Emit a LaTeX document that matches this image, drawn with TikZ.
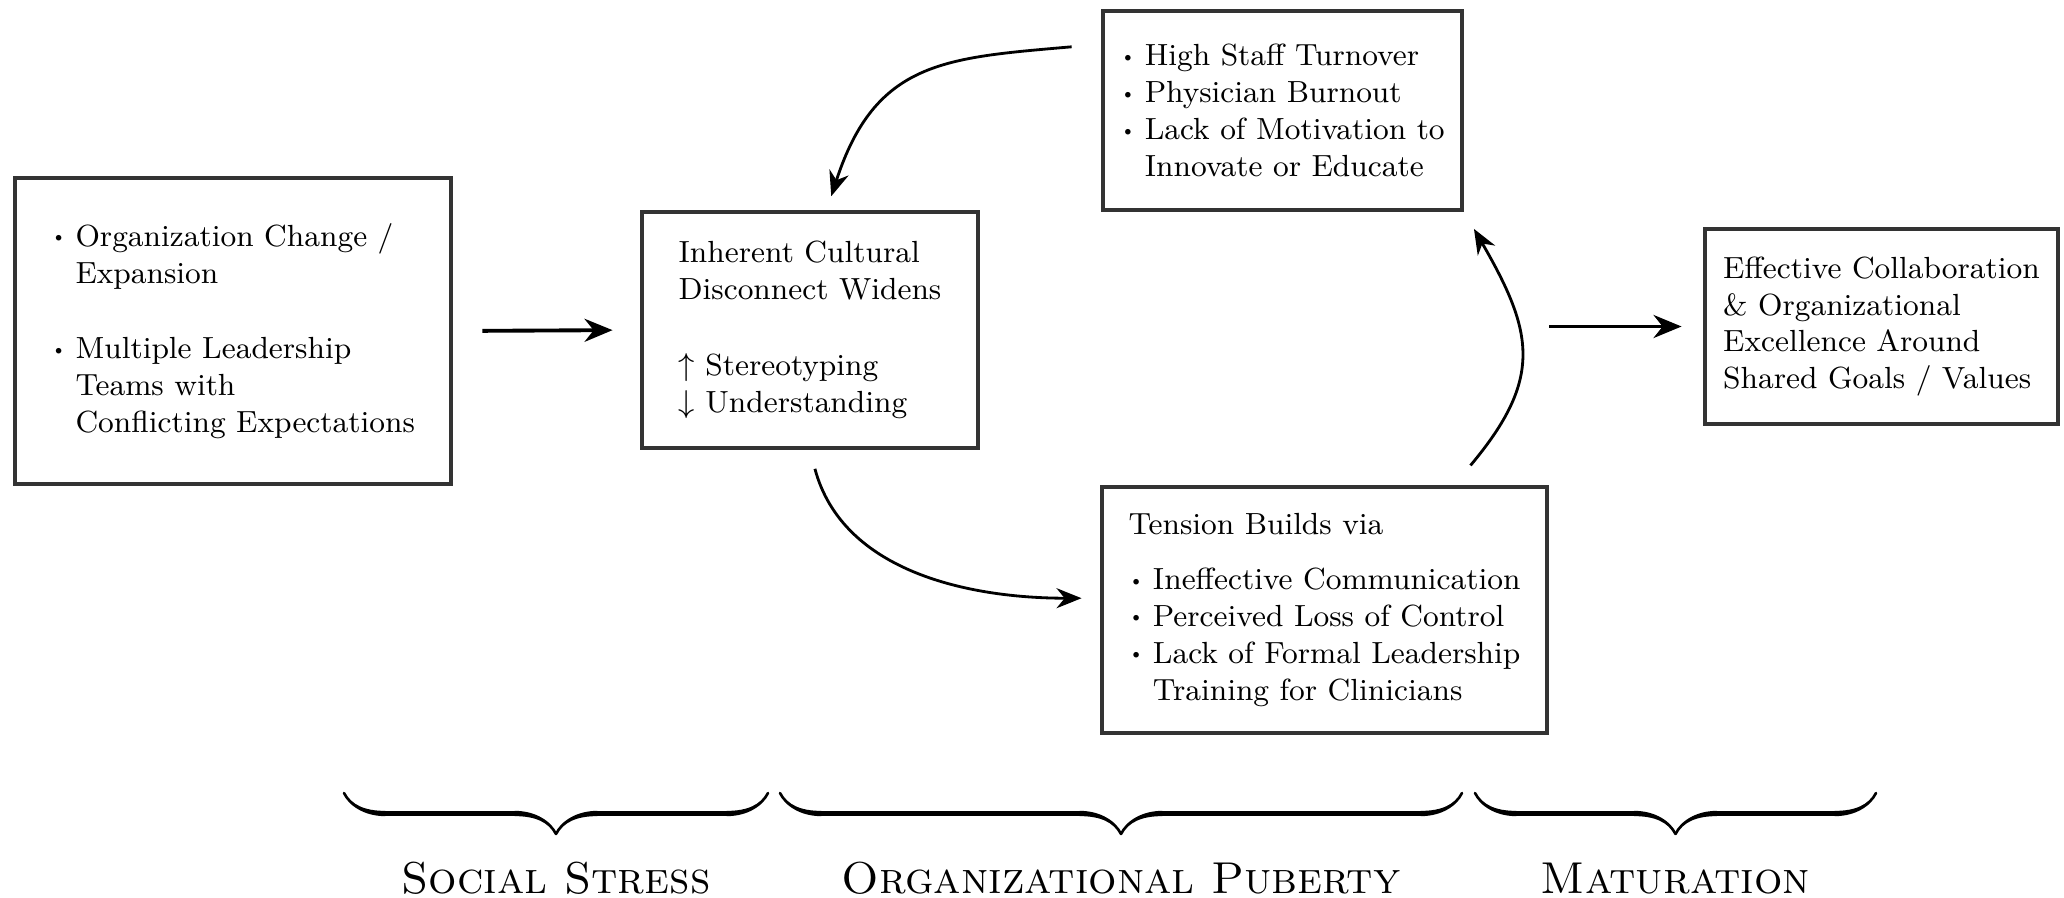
\documentclass[tikz,border=0pt]{standalone}
\usetikzlibrary{arrows.meta, decorations.pathreplacing, calligraphy}
\newcommand{\bul}{\makebox[0.8em][l]{\raisebox{0.25ex}{\scalebox{0.62}{\textbullet}}}}
\newcommand{\bulgap}{\hspace*{0.8em}}
\begin{document}
\begin{tikzpicture}[
		stagebox/.style = {draw = black!80, line width = 1.4pt, align = left, inner sep = 0pt, font = \fontsize{8.7}{10.5}\selectfont},
		flowarrow/.style = {line width = 1.1pt, -{Stealth[length = 2.8mm, width = 2.3mm]}},
		cyclearrow/.style = {line width = 0.8pt, -{Stealth[length = 2.5mm, width = 2mm]}},
		phasebrace/.style = {decorate, decoration = {calligraphic brace, mirror, amplitude = 0.41cm}, line width = 1.5pt},
		phaselabel/.style = {anchor = base, inner sep = 0pt, font = \fontsize{12.7}{14}\selectfont\scshape}
	]
	\useasboundingbox (0, 0) rectangle (20.64, 8.97);
	
	\node (change) at (2.33, 5.66) [stagebox, minimum width = 4.36cm, minimum height = 3.06cm] {
		\bul Organization Change /\\
		\bulgap Expansion\\[11pt]
		\bul Multiple Leadership\\
		\bulgap Teams with\\
		\bulgap Conflicting Expectations};
	\node (disconnect) at (8.10, 5.67) [stagebox, minimum width = 3.36cm, minimum height = 2.36cm] {
		Inherent Cultural\\
		Disconnect Widens\\[11pt]
		$\uparrow$ Stereotyping\\
		$\downarrow$ Understanding};
	\node (burnout) at (12.825, 7.865) [stagebox, minimum width = 3.59cm, minimum height = 1.99cm] {
		\bul High Staff Turnover\\
		\bul Physician Burnout\\
		\bul Lack of Motivation to\\
		\bulgap Innovate or Educate};
	\node (tension) at (13.245, 2.87) [stagebox, minimum width = 4.45cm, minimum height = 2.46cm] {
		Tension Builds via\\[5pt]
		\bul Ineffective Communication\\
		\bul Perceived Loss of Control\\
		\bul Lack of Formal Leadership\\
		\bulgap Training for Clinicians};
	\node (excellence) at (18.815, 5.705) [stagebox, minimum width = 3.53cm, minimum height = 1.95cm] {
		Effective Collaboration\\
		\& Organizational\\
		Excellence Around\\
		Shared Goals / Values};
	\coordinate (cycleexit) at (15.49, 5.705);
	
	\draw [flowarrow, shorten <= 0.29cm, shorten >= 0.27cm] (change.east) -- (disconnect.west);
	\draw [flowarrow, shorten >= 0.21cm] (cycleexit) -- (excellence.west);
	
	\draw [cyclearrow, shorten <= 0.29cm, shorten >= 0.14cm] (burnout.160) to [out = 185, in = 72, looseness = 1.25] (disconnect.82);
	\draw [cyclearrow, shorten <= 0.19cm, shorten >= 0.18cm] (disconnect.south) to [out = -75, in = 180] (tension.177);
	\draw [cyclearrow, shorten <= 0.25cm, shorten >= 0.19cm] (tension.44) to [out = 50, in = -60, looseness = 1.3] (burnout.south east);
	
	\foreach \xa/\xb/\lbl/\txt in {3.44/7.68/stress/Social Stress, 7.80/14.62/puberty/Organizational Puberty, 14.75/18.76/maturation/Maturation} {
		\draw [phasebrace] (\xa, 1.04) -- (\xb, 1.04);
		\node (\lbl) at ({(\xa + \xb) / 2}, 0.04) [phaselabel] {\txt};
	}
\end{tikzpicture}
\end{document}
